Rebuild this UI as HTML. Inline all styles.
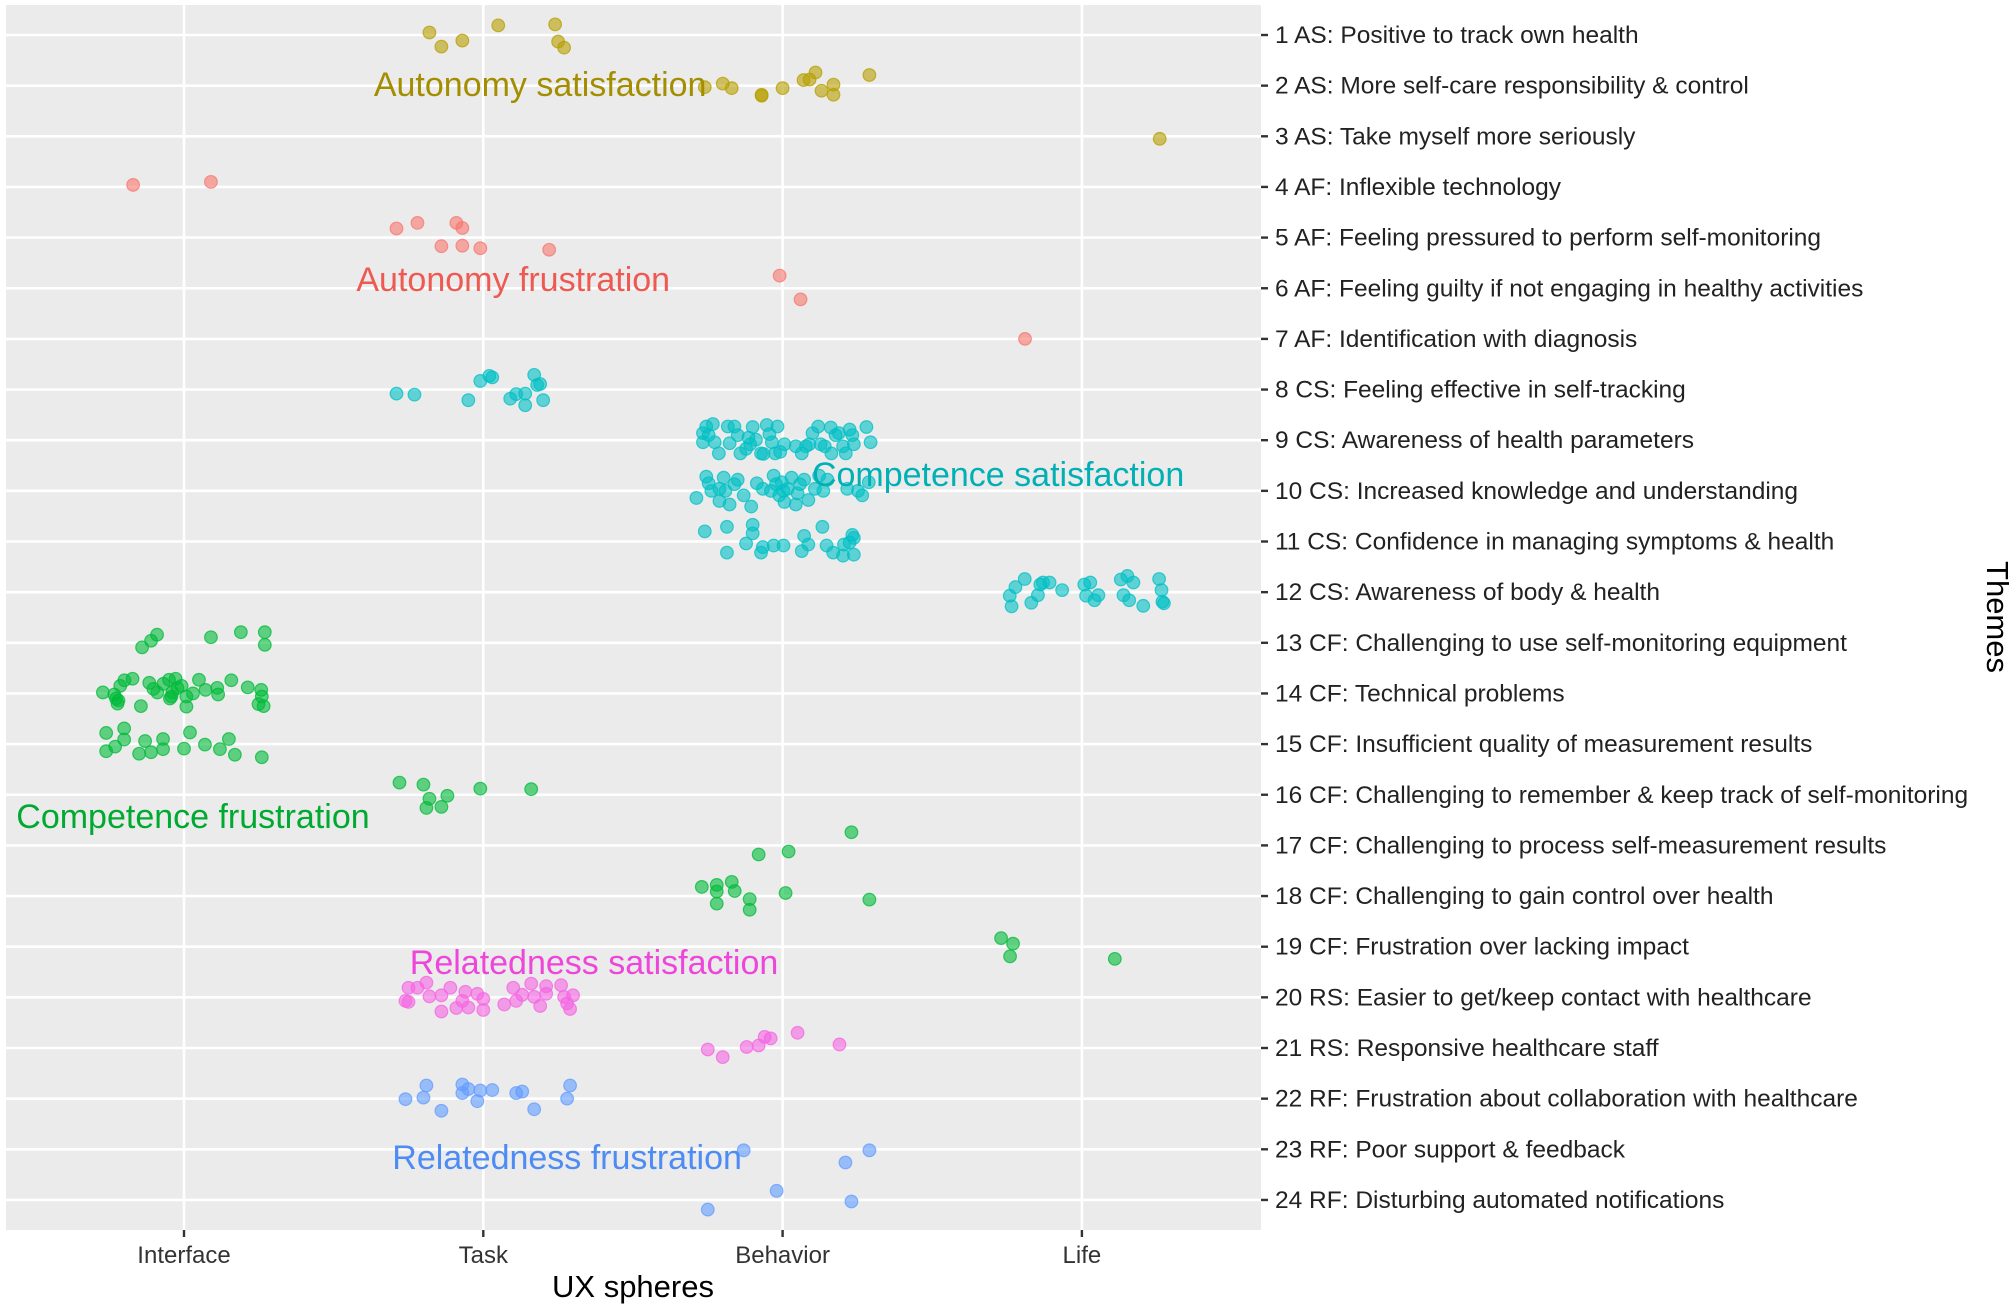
<!DOCTYPE html>
<html><head><meta charset="utf-8">
<style>
html,body{margin:0;padding:0;background:#fff;}
svg{display:block;font-family:"Liberation Sans",Arial,sans-serif;}
</style></head>
<body>
<svg id="chart" width="2014" height="1305" viewBox="0 0 2014 1305" xmlns="http://www.w3.org/2000/svg">
<rect x="6" y="5" width="1255" height="1225" fill="#EBEBEB"/>
<g id="grid"></g><g id="pts"></g><g id="ann"></g><g id="axes"></g>
<text x="633" y="1297" font-size="31" text-anchor="middle" fill="#000">UX spheres</text>
<text x="0" y="0" font-size="31" text-anchor="middle" fill="#000" transform="translate(1987,617) rotate(90)">Themes</text>
</svg>
<script>
const categories = ["Interface","Task","Behavior","Life"];
const themes = ["1 AS: Positive to track own health","2 AS: More self-care responsibility & control","3 AS: Take myself more seriously","4 AF: Inflexible technology","5 AF: Feeling pressured to perform self-monitoring","6 AF: Feeling guilty if not engaging in healthy activities","7 AF: Identification with diagnosis","8 CS: Feeling effective in self-tracking","9 CS: Awareness of health parameters","10 CS: Increased knowledge and understanding","11 CS: Confidence in managing symptoms & health","12 CS: Awareness of body & health","13 CF: Challenging to use self-monitoring equipment","14 CF: Technical problems","15 CF: Insufficient quality of measurement results","16 CF: Challenging to remember & keep track of self-monitoring","17 CF: Challenging to process self-measurement results","18 CF: Challenging to gain control over health","19 CF: Frustration over lacking impact","20 RS: Easier to get/keep contact with healthcare","21 RS: Responsive healthcare staff","22 RF: Frustration about collaboration with healthcare","23 RF: Poor support & feedback","24 RF: Disturbing automated notifications"];
// Autonomy satisfaction
const asX = [1.82,1.86,1.93,2.05,2.24,2.25,2.27, 2.74,2.80,2.83,2.93,2.93,3.0,3.07,3.09,3.11,3.13,3.17,3.17,3.29, 4.26];
const asY = [0.95,1.23,1.11,0.81,0.79,1.13,1.25, 2.03,1.96,2.05,2.18,2.2,2.05,1.89,1.88,1.74,2.10,2.18,1.98,1.79, 3.05];
// Autonomy frustration
const afX = [0.83,1.09, 1.71,1.78,1.91,1.93,1.86,1.93,1.99,2.22, 2.99,3.06, 3.81];
const afY = [3.96,3.90, 4.82,4.71,4.71,4.81,5.17,5.16,5.21,5.24, 5.75,6.22, 7.0];
// Competence satisfaction
const csX = [1.71,1.77,1.95,1.99,2.02,2.03,2.09,2.11,2.14,2.14,2.17,2.18,2.19,2.20,
 2.745,2.767,2.734,2.753,2.734,2.773,2.787,2.817,2.839,2.823,2.850,2.859,2.886,2.892,2.900,2.911,2.928,2.947,2.956,2.964,2.975,2.983,2.992,3.006,3.064,3.078,3.089,3.100,3.119,3.127,3.141,3.161,3.163,3.177,3.188,3.202,3.211,3.224,3.233,3.238,3.280,3.294,2.936,2.878,3.044,
 2.712,2.745,2.753,2.762,2.789,2.803,2.809,2.823,2.839,2.850,2.870,2.895,2.914,2.961,2.970,2.978,2.989,2.997,3.006,3.017,3.030,3.044,3.050,3.058,3.072,3.086,3.108,3.122,3.136,3.150,3.216,3.252,3.266,3.288,3.003,2.934,2.789,
 2.740,2.814,2.814,2.878,2.900,2.900,2.928,2.934,2.970,3.003,3.064,3.072,3.086,3.133,3.147,3.169,3.202,3.205,3.224,3.233,3.238,3.238,
 3.759,3.765,3.778,3.809,3.831,3.853,3.861,3.870,3.892,3.934,4.008,4.014,4.028,4.042,4.055,4.130,4.139,4.152,4.158,4.172,4.205,4.258,4.266,4.274,4.269];
const csY = [8.08,8.10,8.21,7.83,7.73,7.76,8.18,8.09,8.08,8.31,7.71,7.91,7.89,8.21,
 8.73,8.68,8.86,8.90,9.04,9.04,9.26,8.73,8.73,9.06,8.90,9.26,8.95,9.08,8.74,8.99,9.26,8.70,8.88,9.04,9.26,8.73,9.23,9.08,9.26,9.12,9.08,8.86,8.73,9.08,9.12,8.75,9.26,8.90,8.86,9.12,9.26,8.79,8.90,9.08,8.74,9.04,9.27,9.17,9.12,
 10.14,9.72,9.85,10.0,10.20,9.74,10.0,10.27,9.87,9.78,10.09,10.31,9.85,10.0,9.70,9.87,10.09,9.83,10.22,9.96,9.74,10.27,10.05,9.87,9.78,10.18,9.96,9.70,10.0,9.78,9.96,10.0,10.09,9.83,10.0,9.96,9.96,
 10.80,10.71,11.22,11.04,10.67,10.84,11.22,11.11,11.08,11.08,11.19,10.89,11.06,10.71,11.08,11.22,11.28,11.06,11.02,10.87,11.26,10.93,
 12.07,12.28,11.90,11.74,12.21,12.06,11.85,11.81,11.81,11.96,11.85,12.07,11.81,12.16,12.06,11.75,12.06,11.68,12.16,11.81,12.27,11.74,11.96,12.22,12.19];
// Competence frustration
const cfX = [0.86,0.89,0.91,1.09,1.19,1.27,1.27,
 0.729,0.767,0.781,0.778,0.787,0.801,0.828,0.856,0.884,0.898,0.911,0.931,0.950,0.958,0.972,0.961,0.978,0.992,1.008,1.008,1.030,1.050,1.072,1.111,1.114,1.158,1.213,1.249,1.258,1.260,1.266,0.773,0.953,
 0.74,0.80,0.80,0.74,0.77,0.85,0.87,0.89,0.93,0.93,1.0,1.02,1.07,1.12,1.15,1.17,1.26,
 1.72,1.80,1.88,1.82,1.81,1.86,1.99,2.16,
 3.23,3.02,2.92,
 2.73,2.78,2.78,2.83,2.84,2.89,2.89,2.78,3.01,3.29,
 3.73,3.77,3.76,4.11];
const cfY = [13.09,12.96,12.84,12.89,12.79,12.79,13.04,
 13.98,14.02,14.14,14.20,13.85,13.74,13.71,14.25,13.79,13.91,13.98,13.81,13.73,14.06,13.71,13.98,13.89,13.85,14.26,14.06,14.0,13.73,13.93,13.89,14.02,13.74,13.88,14.21,13.93,14.06,14.25,14.10,14.10,
 14.78,14.69,14.91,15.14,15.05,15.19,14.94,15.16,14.90,15.10,15.09,14.77,15.01,15.10,14.90,15.21,15.26,
 15.76,15.80,16.02,16.08,16.26,16.24,15.88,15.89,
 16.74,17.12,17.18,
 17.82,17.78,17.91,17.72,17.90,18.06,18.27,18.15,17.94,18.07,
 18.83,18.94,19.19,19.24];
// Relatedness satisfaction
const rsX = [1.74,1.75,1.78,1.81,1.82,1.86,1.86,1.89,1.91,1.93,1.95,1.94,1.98,2.00,2.00,2.07,2.10,2.11,2.13,2.16,2.17,2.19,2.21,2.21,2.26,2.27,2.28,2.29,2.30,1.75,
 2.75,2.80,2.88,2.92,2.94,2.96,3.05,3.19];
const rsY = [20.07,19.81,19.81,19.71,19.98,19.96,20.28,19.81,20.21,20.07,20.20,19.89,19.93,20.03,20.25,20.14,19.81,20.07,19.95,19.73,19.99,20.17,19.78,19.93,19.76,19.99,20.12,20.23,19.96,20.09,
 21.03,21.18,20.98,20.95,20.78,20.81,20.70,20.93];
// Relatedness frustration
const rfX = [1.74,1.81,1.80,1.86,1.93,1.93,1.95,1.98,1.99,2.03,2.11,2.13,2.17,2.28,2.29, 2.87,3.21,3.29, 2.98,3.23,2.75];
const rfY = [22.01,21.74,21.98,22.24,21.72,21.89,21.81,22.05,21.84,21.83,21.89,21.86,22.21,22.0,21.74, 23.02,23.26,23.02, 23.82,24.03,24.19];
const annLabels = ["Autonomy satisfaction","Autonomy frustration","Competence satisfaction","Competence frustration","Relatedness satisfaction","Relatedness frustration"];
const annX = [2.19,2.10,3.72,1.03,2.37,2.28];
const annY = [1.97,5.82,9.67,16.42,19.30,23.15];
const colors = ["#B79F00","#F8766D","#00BFC4","#00BA38","#F564E3","#619CFF"];
const textColors = ["#A38E00","#EE5A52","#00B0B5","#00AA30","#EE45DA","#4D8BF5"];

const NS="http://www.w3.org/2000/svg";
const xs = v => 184 + (v-1)*299.3;
const ys = r => 35 + (r-1)*50.65;
function mk(tag, attrs, parent){const e=document.createElementNS(NS,tag);for(const k in attrs)e.setAttribute(k,attrs[k]);parent.appendChild(e);return e;}
const grid=document.getElementById('grid'), pts=document.getElementById('pts'), ann=document.getElementById('ann'), axes=document.getElementById('axes');
categories.forEach((c,i)=>{
  const x=xs(i+1);
  const g=mk('line',{x1:x,x2:x,y1:5,y2:1230,stroke:'#fff','stroke-width':2.6},grid);
  
  
  const t=mk('line',{x1:x,x2:x,y1:1230,y2:1237,stroke:'#333','stroke-width':2.4},axes);
  
  
  const l=mk('text',{x:x,y:1263,'font-size':24,'text-anchor':'middle',fill:'#333'},axes);
  l.textContent=c;
  
  
});
themes.forEach((th,i)=>{
  const y=ys(i+1);
  const g=mk('line',{x1:6,x2:1261,y1:y,y2:y,stroke:'#fff','stroke-width':2.6},grid);
  
  
  const t=mk('line',{x1:1261,x2:1268,y1:y,y2:y,stroke:'#333','stroke-width':2.4},axes);
  
  
  const l=mk('text',{x:1275,y:y+8,'font-size':24.5,fill:'#222'},axes);
  l.textContent=th;
  
  
});
const series=[[asX,asY],[afX,afY],[csX,csY],[cfX,cfY],[rsX,rsY],[rfX,rfY]];
series.forEach((s,k)=>{
  s[0].forEach((v,i)=>{
    const c=mk('circle',{cx:xs(v),cy:ys(s[1][i]),r:6.3,fill:colors[k],'fill-opacity':0.6,stroke:colors[k],'stroke-opacity':0.75,'stroke-width':1.2},pts);
    
    
  });
});
annLabels.forEach((a,i)=>{
  const t=mk('text',{x:xs(annX[i]),y:ys(annY[i])+12,'font-size':34,'text-anchor':'middle',fill:textColors[i]},ann);
  t.textContent=a;
  
  
});
</script>
</body></html>
